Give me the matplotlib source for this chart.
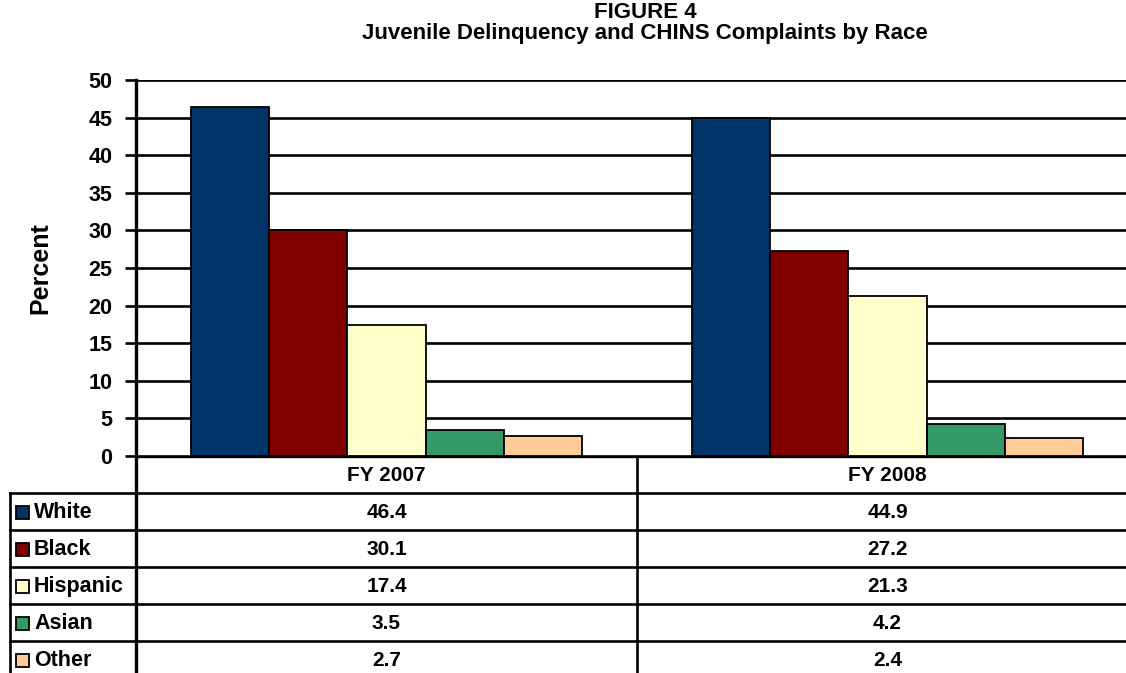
import matplotlib.pyplot as plt
import numpy as np

plt.rcParams['font.family'] = ['Liberation Sans', 'DejaVu Sans']
plt.rcParams['font.weight'] = 'bold'

years = ['FY 2007', 'FY 2008']
races = ['White', 'Black', 'Hispanic', 'Asian', 'Other']
white = [46.4, 44.9]
black = [30.1, 27.2]
hispanic = [17.4, 21.3]
asian = [3.5, 4.2]
other = [2.7, 2.4]
colors = ['#003366', '#800000', '#FFFFCC', '#339966', '#FFCC99']
yticks = [0, 5, 10, 15, 20, 25, 30, 35, 40, 45, 50]

series = [white, black, hispanic, asian, other]

W, H = 1126, 673
fig = plt.figure(figsize=(W / 100, H / 100), dpi=100)

# chart area in pixel terms (right edge runs past the figure and is clipped)
left, right, top, bottom = 136, 1138, 80, 456
ax = fig.add_axes([left / W, 1 - bottom / H, (right - left) / W, (bottom - top) / H])

x = np.arange(len(years)) + 0.5
bw = 0.156
for k, vals in enumerate(series):
    ax.bar(x + (k - 2) * bw, vals, bw, color=colors[k], edgecolor='black',
           linewidth=1.3, zorder=3)

ax.set_xlim(0, 2)
ax.set_ylim(0, 50)
ax.set_yticks(yticks)
ax.set_yticklabels([str(t) for t in yticks], fontsize=15.5, fontweight='bold')
ax.yaxis.grid(True, color='black', linewidth=1.9, zorder=0)
ax.set_axisbelow(True)
ax.tick_params(axis='y', length=8, width=1.9, pad=9)
ax.set_xticks([])
for s in ['top', 'right', 'bottom']:
    ax.spines[s].set_visible(False)
ax.spines['left'].set_linewidth(2.4)
ax.set_ylabel('Percent', fontsize=18, fontweight='bold', labelpad=26)

fig.text(645 / W, 1 - 12 / H, 'FIGURE 4', ha='center', va='center',
         fontsize=16, fontweight='bold')
fig.text(645 / W, 1 - 33 / H, 'Juvenile Delinquency and CHINS Complaints by Race',
         ha='center', va='center', fontsize=16, fontweight='bold')

# data table underneath the chart, drawn in pixel coordinates
tb = fig.add_axes([0, 0, 1, 1], zorder=-1)
tb.set_xlim(0, W)
tb.set_ylim(H, 0)
tb.axis('off')
tb.patch.set_alpha(0)

row_h = 37
hdr_top = bottom
rows_top = hdr_top + row_h
mid = (left + right) / 2
lw = 1.9
tb.plot([left, W], [hdr_top, hdr_top], color='black', lw=2.4)
for i in range(len(races)):
    yy = rows_top + i * row_h
    tb.plot([10, W], [yy, yy], color='black', lw=lw)
tb.plot([10, 10], [rows_top, H], color='black', lw=lw)
tb.plot([left, left], [hdr_top, H], color='black', lw=2.4)
tb.plot([mid, mid], [hdr_top, H], color='black', lw=lw)

col_c = [(left + mid) / 2, (mid + right) / 2]
for j, yr in enumerate(years):
    tb.text(col_c[j], hdr_top + row_h / 2 + 1, yr, ha='center', va='center',
            fontsize=15, fontweight='bold')

for i, name in enumerate(races):
    yc = rows_top + i * row_h + row_h / 2 + 1
    tb.add_patch(plt.Rectangle((16, yc - 7), 13, 13, facecolor=colors[i],
                               edgecolor='black', lw=1.3))
    tb.text(34, yc, name, ha='left', va='center', fontsize=15.5, fontweight='bold')
    for j in range(len(years)):
        tb.text(col_c[j], yc, f'{series[i][j]:.1f}', ha='center', va='center',
                fontsize=15, fontweight='bold')

fig.savefig('out.png', dpi=100)
